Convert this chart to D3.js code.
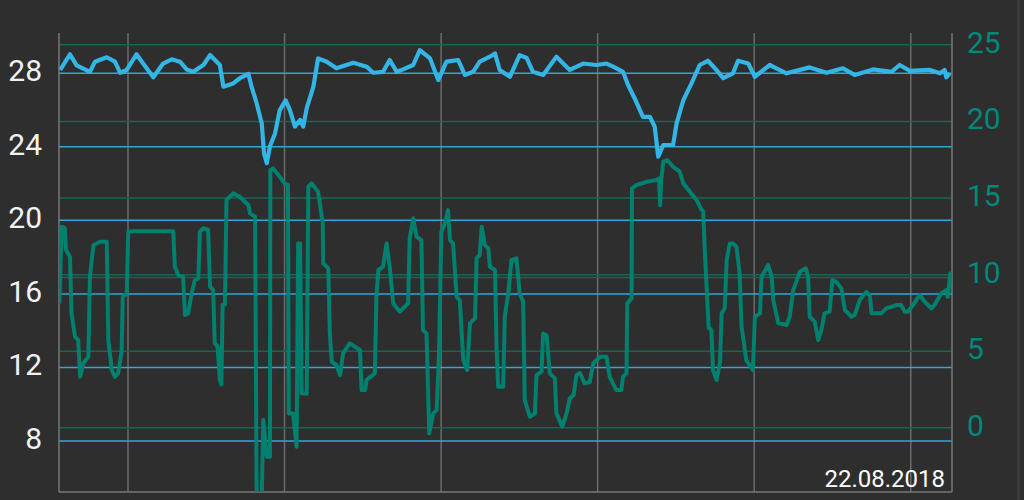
<!DOCTYPE html>
<html>
<head>
<meta charset="utf-8">
<script src="https://cdn.jsdelivr.net/npm/d3@7"></script>
<style>
html,body{margin:0;padding:0;background:#2e2e2e;}
svg{display:block;}
text{font-family:Roboto,"Noto Sans",sans-serif;}
</style>
</head>
<body>
<svg id="chart" width="1024" height="500"></svg>
<script>
// ---- data (hours since 21.08.2018 22:15) ----
const startTime = new Date(2018, 7, 21, 22, 15);
const endTime = new Date(2018, 7, 22, 21, 4);
const dateLabel = "22.08.2018";
const leftTicks = [8, 12, 16, 20, 24, 28];
const rightTicks = [0, 5, 10, 15, 20, 25];
const rightLimit = 9.78;

const tempHours = [0.03,0.28,0.45,0.79,0.92,1.22,1.43,1.56,1.73,1.98,2.15,2.41,2.66,2.88,3.09,3.26,3.43,3.69,3.86,4.11,4.20,4.45,4.62,4.84,4.92,5.05,5.18,5.24,5.31,5.39,5.52,5.64,5.79,5.90,6.03,6.16,6.24,6.33,6.50,6.62,6.84,7.09,7.52,7.86,8.03,8.28,8.45,8.63,8.79,9.05,9.22,9.48,9.69,9.90,10.2,10.37,10.58,10.75,11.01,11.14,11.26,11.52,11.77,11.95,12.11,12.37,12.71,13.05,13.39,13.73,13.99,14.16,14.41,14.54,14.71,14.92,15.1,15.22,15.31,15.44,15.69,15.78,15.95,16.16,16.37,16.58,16.80,16.97,17.22,17.35,17.61,17.78,18.16,18.33,18.59,19.18,19.61,20.03,20.33,20.80,21.27,21.48,21.74,22.25,22.51,22.63,22.67,22.76];
const tempValues = [28.15,29.0,28.4,28.05,28.6,28.84,28.6,28.0,28.15,29.0,28.5,27.75,28.5,28.73,28.6,28.18,28.05,28.42,28.96,28.42,27.24,27.42,27.7,27.93,27.24,26.34,25.25,23.6,23.08,24.0,24.7,25.97,26.5,25.97,25.07,25.43,25.07,26.07,27.24,28.78,28.6,28.24,28.54,28.33,28.0,28.05,28.69,28.05,28.18,28.42,29.23,28.78,27.6,28.6,28.69,27.88,28.05,28.6,28.87,29.05,28.15,27.78,28.96,28.8,28.05,27.88,28.87,28.15,28.5,28.42,28.5,28.33,28.05,27.33,26.6,25.6,25.6,25.07,23.43,24.07,24.07,25.25,26.5,27.42,28.42,28.65,28.15,27.7,27.97,28.65,28.5,27.78,28.42,28.24,27.97,28.29,28.0,28.24,27.88,28.18,28.05,28.42,28.1,28.15,27.97,28.15,27.75,27.97];

const windHours = [0.01,0.07,0.15,0.18,0.28,0.32,0.41,0.49,0.54,0.62,0.75,0.79,0.88,1.05,1.22,1.26,1.35,1.43,1.51,1.60,1.63,1.73,1.77,1.90,2.92,2.96,3.05,3.17,3.22,3.30,3.39,3.47,3.56,3.60,3.69,3.81,3.86,3.94,3.98,4.05,4.11,4.15,4.18,4.24,4.28,4.45,4.62,4.84,4.88,5.01,5.05,5.18,5.22,5.31,5.39,5.40,5.47,5.64,5.76,5.85,5.87,5.98,6.07,6.11,6.16,6.20,6.33,6.37,6.45,6.62,6.74,6.75,6.88,6.92,6.97,7.09,7.18,7.26,7.43,7.69,7.73,7.82,7.86,8.07,8.11,8.16,8.28,8.37,8.45,8.54,8.71,8.92,8.96,9.05,9.14,9.26,9.30,9.39,9.46,9.56,9.65,9.71,9.77,9.86,9.94,9.99,10.07,10.16,10.24,10.33,10.43,10.50,10.63,10.67,10.75,10.80,10.88,10.97,11.01,11.14,11.18,11.22,11.35,11.39,11.48,11.56,11.69,11.77,11.86,11.90,12.03,12.16,12.20,12.33,12.37,12.46,12.54,12.67,12.71,12.86,12.97,13.05,13.15,13.22,13.31,13.43,13.56,13.65,13.82,13.99,14.07,14.24,14.37,14.41,14.50,14.52,14.63,14.64,14.76,15.02,15.27,15.33,15.36,15.39,15.44,15.54,15.69,15.86,15.95,16.12,16.29,16.42,16.46,16.50,16.60,16.67,16.71,16.80,16.89,16.93,17.01,17.06,17.14,17.22,17.31,17.39,17.44,17.56,17.73,17.78,17.91,17.95,18.12,18.21,18.25,18.38,18.59,18.67,18.76,18.93,19.08,19.14,19.18,19.31,19.40,19.48,19.56,19.69,19.76,19.86,19.99,20.08,20.25,20.33,20.46,20.63,20.72,20.76,21.01,21.14,21.40,21.52,21.61,21.69,21.82,21.99,22.12,22.29,22.37,22.54,22.67,22.71,22.78];
const windValues = [8.09,13.1,13.0,11.57,11.14,7.44,5.91,5.7,3.3,4.18,4.61,9.83,11.9,12.11,12.11,5.7,3.74,3.3,3.52,4.93,8.52,8.74,12.77,12.8,12.8,10.48,9.94,9.83,7.33,7.44,8.74,9.61,9.72,12.77,13.0,12.9,9.18,8.96,5.48,5.3,3.09,2.8,7.98,8.0,14.84,15.27,15.05,14.5,13.97,13.75,-4.5,-4.5,0.48,-1.92,-1.92,16.8,16.9,16.36,15.93,15.82,0.91,0.91,-1.27,12.0,12.0,2.22,2.2,15.7,15.93,15.38,13.3,10.7,10.38,6.13,4.28,4.07,3.41,4.83,5.48,5.05,2.43,2.43,3.09,3.52,8.52,10.27,10.48,12.0,10.48,8.09,7.55,8.09,12.33,13.64,12.44,12.22,6.35,6.13,-0.39,0.91,1.13,4.83,12.77,13.3,14.18,12.22,12.0,8.52,8.31,4.39,3.74,6.79,7.11,11.03,11.25,13.1,11.9,11.68,10.48,10.27,5.26,2.65,2.65,7.22,8.74,10.92,11.03,8.74,8.2,1.78,0.69,0.91,3.41,3.63,6.13,6.0,3.52,3.2,0.91,0.04,0.91,1.89,2.11,3.41,3.56,2.87,2.94,4.18,4.61,4.61,3.3,2.43,2.43,3.3,3.52,8.09,8.42,15.6,15.82,16.03,16.14,16.25,14.5,16.2,17.34,17.45,17.01,16.69,15.93,15.38,14.84,14.18,14.1,11.57,6.5,6.35,3.74,3.09,4.28,7.44,7.77,10.92,12.0,12.0,11.79,10.05,6.57,4.39,3.74,7.22,7.44,9.83,10.59,9.83,8.31,6.79,6.68,7.22,8.96,10.16,10.38,9.83,7.22,6.9,5.7,6.35,7.44,7.55,9.61,9.5,9.07,7.66,7.22,7.33,8.31,8.85,8.6,7.44,7.44,7.77,7.98,7.98,7.55,7.55,7.98,8.64,8.2,7.77,7.98,8.74,8.96,8.52,10.16];

// ---- chart ----
const svg = d3.select("#chart");
const W = 1024, H = 500;
const m = {left: 59, right: 952, top: 33, bottom: 492};

svg.append("rect").attr("width", W).attr("height", H).attr("fill", "#2e2e2e");
svg.append("rect").attr("x", 1017).attr("y", 0).attr("width", 3).attr("height", H).attr("fill", "#3a3a3a");

const x = d3.scaleTime().domain([startTime, endTime]).range([m.left, m.right]);
const yL = d3.scaleLinear().domain([5.2, 30.16]).range([m.bottom, m.top]);
const yR = d3.scaleLinear().domain([-4.22, 25.74]).range([m.bottom, m.top]);
const toTime = h => new Date(startTime.getTime() + h * 3600000);

// vertical grid (every 4 hours)
const gx = svg.append("g").attr("transform", `translate(0,${m.bottom})`)
  .call(d3.axisBottom(x).ticks(d3.timeHour.every(4)).tickSize(-(m.bottom - m.top)).tickFormat(""));
gx.select(".domain").remove();
gx.selectAll("line").attr("stroke", "#6b6b6b").attr("stroke-width", 1.5);

// right-axis grid (green)
const gr = svg.append("g").attr("transform", `translate(${m.right},0)`)
  .call(d3.axisRight(yR).tickValues(rightTicks).tickSize(-(m.right - m.left)).tickFormat(""));
gr.select(".domain").remove();
gr.selectAll("line").attr("stroke", "#1b6356").attr("stroke-width", 1.5);

// limit line
svg.append("line").attr("x1", m.left).attr("x2", m.right)
  .attr("y1", yR(rightLimit)).attr("y2", yR(rightLimit))
  .attr("stroke", "#1b6356").attr("stroke-width", 1.5);

// left-axis grid (blue)
const gl = svg.append("g").attr("transform", `translate(${m.left},0)`)
  .call(d3.axisLeft(yL).tickValues(leftTicks).tickSize(-(m.right - m.left)).tickFormat(""));
gl.select(".domain").remove();
gl.selectAll("line").attr("stroke", "#2fa8d8").attr("stroke-width", 1.5);

// axis frame lines
svg.append("line").attr("x1", m.left).attr("x2", m.left).attr("y1", m.top).attr("y2", m.bottom).attr("stroke", "#777").attr("stroke-width", 1.5);
svg.append("line").attr("x1", m.right).attr("x2", m.right).attr("y1", m.top).attr("y2", m.bottom).attr("stroke", "#777").attr("stroke-width", 1.5);
svg.append("line").attr("x1", m.left).attr("x2", m.right).attr("y1", m.bottom).attr("y2", m.bottom).attr("stroke", "#777").attr("stroke-width", 1.5);

// clip
svg.append("clipPath").attr("id", "plot").append("rect")
  .attr("x", m.left).attr("y", m.top).attr("width", m.right - m.left).attr("height", m.bottom - m.top);

const tempData = tempHours.map((h, i) => ({t: toTime(h), v: tempValues[i]}));
const windData = windHours.map((h, i) => ({t: toTime(h), v: windValues[i]}));

svg.append("path").datum(tempData)
  .attr("clip-path", "url(#plot)")
  .attr("fill", "none").attr("stroke", "#33b5e5").attr("stroke-width", 4.2)
  .attr("stroke-linejoin", "round")
  .attr("d", d3.line().x(d => x(d.t)).y(d => yL(d.v)));

svg.append("path").datum(windData)
  .attr("clip-path", "url(#plot)")
  .attr("fill", "none").attr("stroke", "#00806e").attr("stroke-width", 4)
  .attr("stroke-linejoin", "round")
  .attr("d", d3.line().x(d => x(d.t)).y(d => yR(d.v)));

// left labels
svg.append("g").selectAll("text").data(leftTicks).join("text")
  .attr("x", 42).attr("y", d => yL(d) - 2)
  .attr("text-anchor", "end").attr("dominant-baseline", "central")
  .attr("font-size", 30).attr("fill", "#f2f2f2").text(d => d);

// right labels
svg.append("g").selectAll("text").data(rightTicks).join("text")
  .attr("x", 967).attr("y", d => yR(d) - 2)
  .attr("text-anchor", "start").attr("dominant-baseline", "central")
  .attr("font-size", 30).attr("fill", "#00897b").text(d => d);

// date label
svg.append("text").attr("x", 945).attr("y", 487)
  .attr("text-anchor", "end").attr("font-size", 24).attr("fill", "#ffffff").text(dateLabel);
</script>
</body>
</html>
